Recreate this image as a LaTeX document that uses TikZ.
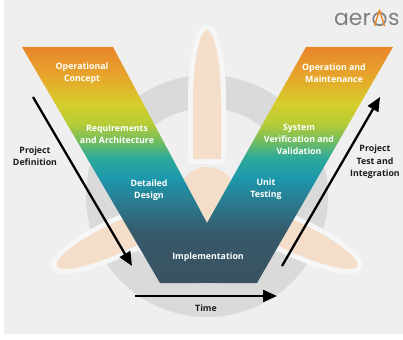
\documentclass[tikz,border=0pt]{standalone}
\usepackage{fontspec}
\setmainfont{Open Sans}
\newfontfamily\logofont{Poppins}
\usetikzlibrary{arrows.meta,calc}

\definecolor{bgcol}{HTML}{EFEFEF}
\definecolor{gapcol}{HTML}{F6F6F6}
\definecolor{ringcol}{HTML}{DADADA}
\definecolor{peach}{HTML}{F4DECA}
\definecolor{inkcol}{HTML}{1C1C1C}
\definecolor{logogray}{HTML}{808080}
\definecolor{logoorange}{HTML}{E8862A}

% colour bands of the V, bottom to top
\definecolor{vcA}{HTML}{3A5262}
\definecolor{vcB}{HTML}{36596A}
\definecolor{vcC}{HTML}{2B7A8F}
\definecolor{vcD}{HTML}{1D98AC}
\definecolor{vcE}{HTML}{2DA99A}
\definecolor{vcF}{HTML}{6BBB64}
\definecolor{vcG}{HTML}{B8CC35}
\definecolor{vcH}{HTML}{D6CE2C}
\definecolor{vcI}{HTML}{E6A82B}
\definecolor{vcJ}{HTML}{E9862A}

\pgfdeclareverticalshading{vband}{100bp}{%
  color(0bp)=(vcA); color(25bp)=(vcA); color(35.6bp)=(vcB);
  color(41.9bp)=(vcC); color(47.2bp)=(vcD); color(51.5bp)=(vcE);
  color(54.7bp)=(vcF); color(58.9bp)=(vcG); color(63.1bp)=(vcH);
  color(68.4bp)=(vcI); color(75bp)=(vcJ); color(100bp)=(vcJ)}

% one propeller blade, pointing up from the hub centre, half width #1
\newcommand\bladeshape[1]{%
  (-#1,37) -- (-#1,95) .. controls (-#1,140) and (-0.45*#1,166) .. (0,166)
  .. controls (0.45*#1,166) and (#1,140) .. (#1,95) -- (#1,37) -- cycle}

\tikzset{
  vlabel/.style={text=white, font=\bfseries\fontsize{8.8}{12}\selectfont,
    align=center, inner sep=0pt},
  sidelabel/.style={text=inkcol, font=\bfseries\fontsize{8.8}{12.5}\selectfont,
    align=center, inner sep=0pt},
  bigarrow/.style={draw=black, line width=2.3pt,
    -{Triangle[length=14pt,width=12pt]}},
  logo/.style={text=logogray, font=\logofont\fontsize{22}{22}\selectfont,
    inner sep=0pt},
  bladegap/.style={draw=gapcol, line width=10pt, line join=round},
}

\begin{document}
\begin{tikzpicture}[x=1pt,y=1pt]
\useasboundingbox (0,0) rectangle (403,-339);
\fill[white] (0,0) rectangle (403,-339);
\fill[bgcol] (4,0) rectangle (403,-334);

% grey ring behind the propeller
\fill[ringcol, even odd rule] (207,-196) circle (121) (207,-196) circle (88);

% propeller: light outlines first, then the blades and hub
\begin{scope}[shift={(207,-196)}]
  \path[bladegap] \bladeshape{14};
  \path[bladegap, rotate=115] \bladeshape{15};
  \path[bladegap, rotate=-115] \bladeshape{15};
  \fill[peach] \bladeshape{14};
  \fill[peach, rotate=115] \bladeshape{15};
  \fill[peach, rotate=-115] \bladeshape{15};
  \fill[peach] (0,0) circle (29);
\end{scope}

% the V
\shade[shading=vband] (22,-47) -- (113,-47) -- (207,-223) -- (306,-47)
  -- (393,-47) -- (257,-283) -- (160,-283) -- cycle;

% phase labels
\node[vlabel] (opc) at (82,-73.5) {Operational\\Concept};
\node[vlabel] (req) at (117,-134) {Requirements\\and Architecture};
\node[vlabel] (dd) at (149,-190) {Detailed\\Design};
\node[vlabel] (impl) at (208,-257) {Implementation};
\node[vlabel] (ut) at (266,-189.5) {Unit\\Testing};
\node[vlabel] (svv) at (299,-139) {System\\Verification and\\Validation};
\node[vlabel] (om) at (334,-73.5) {Operation and\\Maintenance};

% side labels
\node[sidelabel] (pdef) at (35,-156) {Project\\Definition};
\node[sidelabel] (ptest) at (375,-162) {Project\\Test and\\Integration};
\node[sidelabel] (time) at (206,-308) {Time};

% arrows
\coordinate (pdS) at (33,-97);
\coordinate (pdE) at (132,-266);
\coordinate (ptS) at (282,-266);
\coordinate (ptE) at (380,-97);
\coordinate (tS) at (135,-296);
\coordinate (tE) at (277,-296);
\draw[bigarrow] (pdS) -- (pdE);
\draw[bigarrow] (ptS) -- (ptE);
\draw[bigarrow] (tS) -- (tE);

% logo
\node[logo, anchor=base east] (lgaer) at (371,-25.5) {aer};
\coordinate (lgo) at (379.5,-19);
\draw[logogray, line width=1.7pt] (lgo) circle (6.2);
\draw[logoorange, line width=1.4pt, line join=round]
  ($(lgo)+(-5,-7)$) -- ($(lgo)+(0,9)$) -- ($(lgo)+(5,-7)$);
\node[logo, anchor=base west] (lgs) at (388,-25.5) {s};
\end{tikzpicture}
\end{document}
